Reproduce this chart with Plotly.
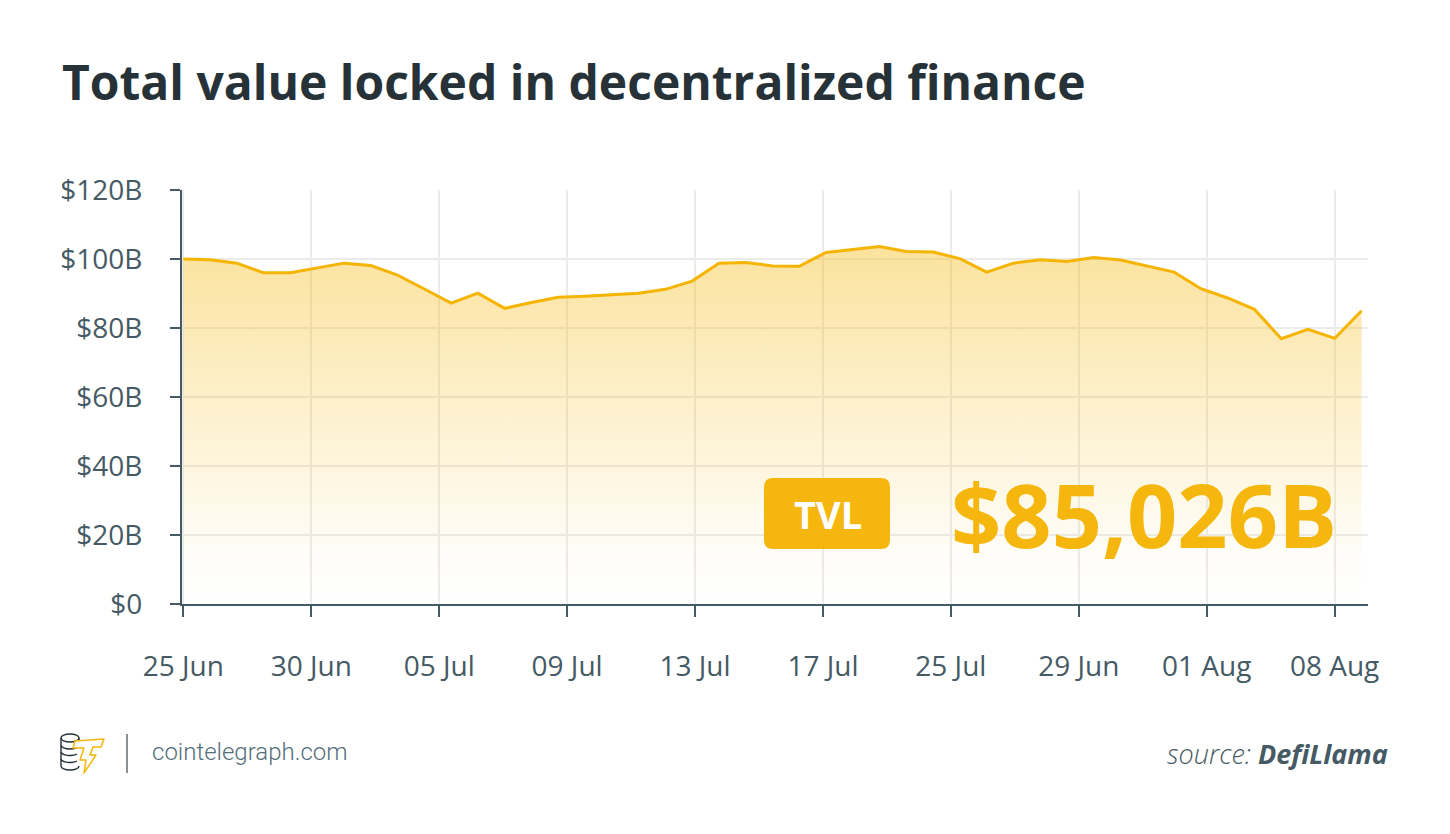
import base64
import plotly.graph_objects as go

# ---- data ----
day_index = list(range(45))
tvl_billions = [100.0, 99.8, 98.8, 96.0, 96.0, 97.5, 98.8, 98.1, 95.3, 91.3,
                87.2, 90.1, 85.7, 87.4, 88.9, 89.2, 89.7, 90.1, 91.2, 93.6,
                98.8, 99.0, 98.0, 97.9, 101.9, 102.7, 103.6, 102.2, 102.0, 100.1,
                96.2, 98.8, 99.8, 99.3, 100.4, 99.7, 98.0, 96.2, 91.4, 88.7,
                85.4, 76.9, 79.6, 77.0, 85.0]
x_tick_positions = [0, 4.777, 9.554, 14.331, 19.108, 23.885, 28.662, 33.439, 38.216, 42.993]
x_tick_labels = ["25 Jun", "30 Jun", "05 Jul", "09 Jul", "13 Jul",
                 "17 Jul", "25 Jul", "29 Jun", "01 Aug", "08 Aug"]
y_tick_values = [0, 20, 40, 60, 80, 100, 120]
y_tick_labels = ["$0", "$20B", "$40B", "$60B", "$80B", "$100B", "$120B"]
headline_value = "$85,026B"

# page body has an 8px margin -> figure is drawn offset by 8px
OFF = 8
W, H = 1450 - OFF, 834 - OFF
PL, PR, PT, PB = 182, 1368, 190, 604          # plot area in screen pixels
ML, MT = PL - OFF, PT - OFF
MR, MB = W - (PR - OFF), H - (PB - OFF)
PW, PH = PR - PL, PB - PT

def px(x):
    return (x - PL) / PW

def py(y):
    return (PB - y) / PH

YELLOW = "#F5B70D"
AXIS = "#455A64"
TEXT = "#455A64"

fig = go.Figure()
fig.add_trace(go.Scatter(
    x=day_index, y=tvl_billions, mode="lines",
    line=dict(color="#F4B400", width=3),
    fill="tozeroy",
    fillgradient=dict(type="vertical", start=0, stop=104,
                      colorscale=[[0, "rgba(245,183,10,0)"],
                                  [0.12, "rgba(245,183,10,0.02)"],
                                  [1, "rgba(245,183,10,0.40)"]]),
    hoverinfo="skip", showlegend=False,
))

# ---- TVL badge (rounded rect) ----
bx0, bx1, by0, by1, r = 764, 890, 478, 549, 9
rx, ry = r / PW, r / PH
X0, X1, Y0, Y1 = px(bx0), px(bx1), py(by1), py(by0)
badge_path = (f"M{X0+rx},{Y0} L{X1-rx},{Y0} Q{X1},{Y0} {X1},{Y0+ry} "
              f"L{X1},{Y1-ry} Q{X1},{Y1} {X1-rx},{Y1} L{X0+rx},{Y1} "
              f"Q{X0},{Y1} {X0},{Y1-ry} L{X0},{Y0+ry} Q{X0},{Y0} {X0+rx},{Y0} Z")
shapes = [
    dict(type="path", xref="paper", yref="paper", path=badge_path,
         fillcolor=YELLOW, line=dict(width=0), layer="above"),
    dict(type="line", xref="paper", yref="paper",
         x0=px(127), x1=px(127), y0=py(734), y1=py(773),
         line=dict(color="#8A8F93", width=2)),
]

annotations = [
    dict(text="<b>Total value locked in decentralized finance</b>",
         xref="paper", yref="paper", x=px(60), y=py(82), xanchor="left", yanchor="middle",
         showarrow=False, font=dict(family="Open Sans", size=48, color="#263238")),
    dict(text="<b>TVL</b>", xref="paper", yref="paper",
         x=px(828), y=py(514), xanchor="center", yanchor="middle",
         showarrow=False, font=dict(family="Open Sans", size=38, color="white")),
    dict(text=f"<b>{headline_value}</b>", xref="paper", yref="paper",
         x=px(1144), y=py(514), xanchor="center", yanchor="middle",
         showarrow=False, font=dict(family="Open Sans", size=88, color=YELLOW)),
    dict(text="cointelegraph.com", xref="paper", yref="paper",
         x=px(150), y=py(752), xanchor="left", yanchor="middle",
         showarrow=False, font=dict(family="Roboto", size=24, color="#546E7A", weight=300)),
    dict(text="<i>source: <b>DefiLlama</b></i>", xref="paper", yref="paper",
         x=px(1390), y=py(753), xanchor="right", yanchor="middle",
         showarrow=False, font=dict(family="Open Sans", size=27, color=TEXT, weight=300)),
]

logo_svg = """<svg xmlns='http://www.w3.org/2000/svg' width='50' height='50' viewBox='0 0 50 50'>
<g fill='none' stroke='#263238' stroke-width='1.4'>
<ellipse cx='15' cy='10' rx='9' ry='4'/>
<path d='M6,10 L6,38 M24,10 L24,14'/>
<path d='M6,17 a9,4 0 0 0 18,0'/>
<path d='M6,24 a9,4 0 0 0 16,2'/>
<path d='M6,31 a9,4 0 0 0 16,2'/>
<path d='M6,38 a9,4 0 0 0 18,0'/>
</g>
<polygon points='20,13 49,11 46,19 38,19 35,27 41,27 29,45 31,32 25,32 29,20 18,20'
 fill='white' stroke='#F5B70D' stroke-width='1.5' stroke-linejoin='round'/>
</svg>"""
logo_uri = "data:image/svg+xml;base64," + base64.b64encode(logo_svg.encode()).decode()

fig.update_layout(
    width=W, height=H,
    margin=dict(l=ML, r=MR, t=MT, b=MB),
    paper_bgcolor="white", plot_bgcolor="white",
    font=dict(family="Open Sans", color=TEXT),
    shapes=shapes, annotations=annotations,
    images=[dict(source=logo_uri, xref="paper", yref="paper",
                 x=px(55), y=py(728), sizex=50 / PW, sizey=50 / PH,
                 xanchor="left", yanchor="top", sizing="stretch", layer="above")],
    xaxis=dict(range=[-0.05, 44.24], tickmode="array",
               tickvals=x_tick_positions, ticktext=x_tick_labels,
               showgrid=True, gridcolor="#EBEBEB", gridwidth=1.5,
               showline=True, linecolor=AXIS, linewidth=2,
               ticks="outside", ticklen=11, tickwidth=2, tickcolor=AXIS,
               ticklabelstandoff=25, zeroline=False,
               tickfont=dict(family="Open Sans", size=28, color=TEXT)),
    yaxis=dict(range=[0, 120], tickmode="array",
               tickvals=y_tick_values, ticktext=y_tick_labels,
               showgrid=True, gridcolor="#EBEBEB", gridwidth=1.5,
               showline=True, linecolor=AXIS, linewidth=2,
               ticks="outside", ticklen=10, tickwidth=2, tickcolor=AXIS,
               ticklabelstandoff=22, zeroline=False,
               tickfont=dict(family="Open Sans", size=28, color=TEXT)),
)

fig.write_html("out.html")
